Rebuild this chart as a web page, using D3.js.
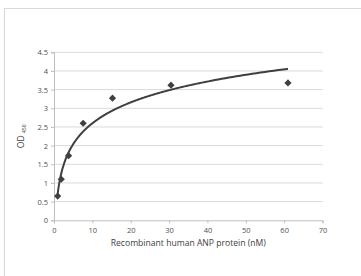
<!DOCTYPE html>
<html><head><meta charset="utf-8">
<script src="https://cdn.jsdelivr.net/npm/d3@7"></script>
<style>html,body{margin:0;padding:0;background:#fff;}svg{display:block;}</style>
</head><body>
<svg id="c" width="361" height="276"></svg>
<script>
const concentrations = [0.95, 1.9, 3.8, 7.6, 15.25, 30.5, 61];
const odValues = [0.65, 1.1, 1.73, 2.6, 3.27, 3.62, 3.68];
const xTicks = [0, 10, 20, 30, 40, 50, 60, 70];
const yTicks = [0, 0.5, 1, 1.5, 2, 2.5, 3, 3.5, 4, 4.5];
const xTitle = "Recombinant human ANP protein (nM)";

const svg = d3.select("#c");
const font = "'Open Sans', sans-serif";
const m = {l: 54, r: 322.5, t: 52.3, b: 220.3};
const x = d3.scaleLinear().domain([0, 70]).range([m.l, m.r]);
const y = d3.scaleLinear().domain([0, 4.5]).range([m.b, m.t]);

// outer frame (cropped)
svg.append("path").attr("d", "M4.5,280V8.5H365").attr("fill", "none")
  .attr("stroke", "#d9d9d9").attr("stroke-width", 1.2);

// gridlines
svg.append("g").selectAll("line").data(yTicks.filter(d => d > 0)).join("line")
  .attr("x1", m.l).attr("x2", m.r).attr("y1", d => y(d)).attr("y2", d => y(d))
  .attr("stroke", "#d9d9d9").attr("stroke-width", 1);

// axes
const yAxis = svg.append("g").attr("transform", `translate(${m.l},0)`)
  .call(d3.axisLeft(y).tickValues(yTicks).tickSize(3).tickPadding(3).tickFormat(d3.format("")));
const xAxis = svg.append("g").attr("transform", `translate(0,${m.b})`)
  .call(d3.axisBottom(x).tickValues(xTicks).tickSize(3).tickPadding(4));
[yAxis, xAxis].forEach(g => {
  g.select(".domain").attr("stroke", "#bfbfbf");
  g.selectAll(".tick line").attr("stroke", "#bfbfbf");
  g.selectAll("text").attr("fill", "#505050").style("font-family", font).style("font-size", "7.5px");
});

// logarithmic trendline fitted to data
const lx = concentrations.map(Math.log);
const mx = d3.mean(lx), my = d3.mean(odValues);
const a = d3.sum(lx.map((v, i) => (v - mx) * (odValues[i] - my))) / d3.sum(lx.map(v => (v - mx) ** 2));
const b = my - a * mx;
const xs = d3.range(0, 201).map(i => concentrations[0] * Math.pow(concentrations[concentrations.length - 1] / concentrations[0], i / 200));
svg.append("path").datum(xs)
  .attr("d", d3.line().x(d => x(d)).y(d => y(a * Math.log(d) + b)).curve(d3.curveBasis))
  .attr("fill", "none").attr("stroke", "#3f3f3f").attr("stroke-width", 2);

// markers (diamonds)
svg.append("g").selectAll("path").data(concentrations.map((c, i) => [c, odValues[i]])).join("path")
  .attr("d", d3.symbol(d3.symbolSquare, 26))
  .attr("transform", d => `translate(${x(d[0])},${y(d[1])}) rotate(45)`)
  .attr("fill", "#404040");

// axis titles
svg.append("text").attr("x", (m.l + m.r) / 2).attr("y", 246).attr("text-anchor", "middle")
  .attr("fill", "#404040").style("font-family", font).style("font-size", "8.6px").text(xTitle);
const yt = svg.append("text").attr("transform", `translate(24,${(m.t + m.b) / 2}) rotate(-90)`)
  .attr("text-anchor", "middle").attr("fill", "#404040").style("font-family", font).style("font-size", "8.6px");
yt.append("tspan").text("OD ");
yt.append("tspan").attr("dy", 1.5).style("font-size", "5px").text("450");
</script>
</body></html>
